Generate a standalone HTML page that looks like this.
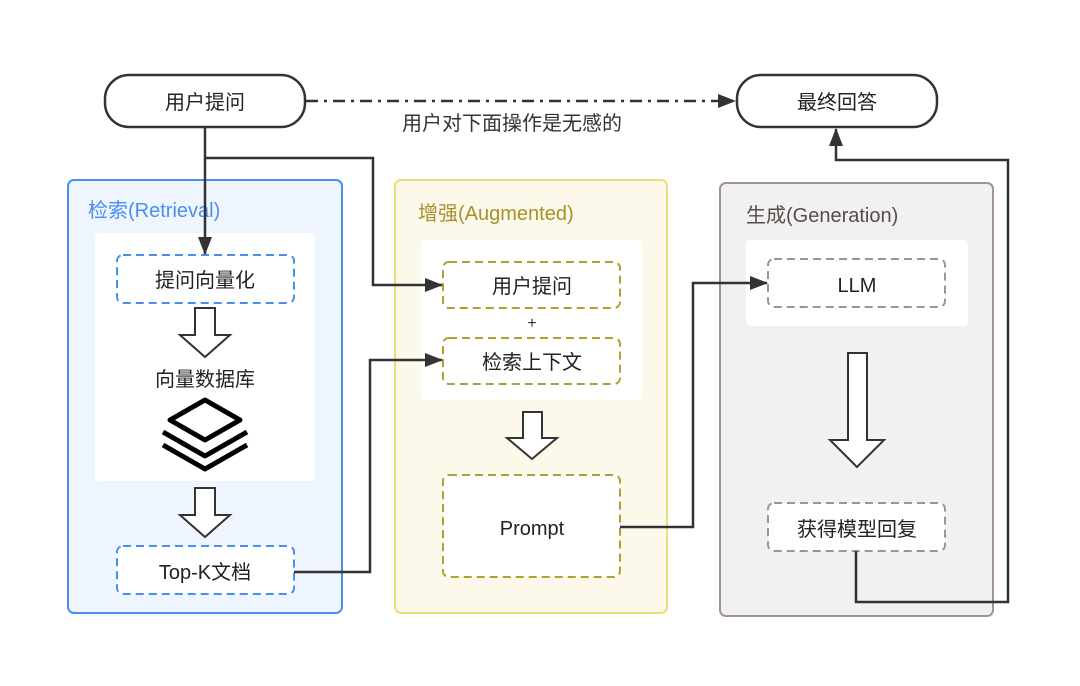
<!DOCTYPE html>
<html><head><meta charset="utf-8"><style>
html,body{margin:0;padding:0;background:#fff;}
svg{display:block;}
text{font-family:"Liberation Sans","Noto Sans CJK SC",sans-serif;}
</style></head><body>
<svg width="1080" height="686" viewBox="0 0 1080 686" xmlns="http://www.w3.org/2000/svg">
<defs>
<marker id="ar2" markerWidth="18" markerHeight="14" refX="17" refY="7" orient="auto" markerUnits="userSpaceOnUse">
<path d="M0,0 L18,7 L0,14 Z" fill="#333"/>
</marker>
</defs>
<rect width="1080" height="686" fill="#fff"/>
<!-- panels -->
<rect x="68" y="180" width="274" height="433" rx="6" fill="#eef5fe" stroke="#4a8ff0" stroke-width="2"/>
<text x="88" y="217" font-size="20" fill="#4a8ff0">检索(Retrieval)</text>
<rect x="95" y="233" width="220" height="248" rx="4" fill="#fff"/>
<rect x="395" y="180" width="272" height="433" rx="6" fill="#fcf8ea" stroke="#eedc7c" stroke-width="2"/>
<text x="418" y="220" font-size="20" fill="#a8912a">增强(Augmented)</text>
<rect x="421" y="240" width="221" height="160" rx="4" fill="#fff"/>
<rect x="720" y="183" width="273" height="433" rx="6" fill="#f1f1f1" stroke="#a39390" stroke-width="2"/>
<text x="746" y="222" font-size="20" fill="#5a4a48">生成(Generation)</text>
<rect x="746" y="240" width="222" height="86" rx="4" fill="#fff"/>
<!-- top nodes -->
<rect x="105" y="75" width="200" height="52" rx="24" fill="#fff" stroke="#333" stroke-width="2.5"/>
<text x="205" y="109" font-size="20" text-anchor="middle" fill="#222">用户提问</text>
<rect x="737" y="75" width="200" height="52" rx="24" fill="#fff" stroke="#333" stroke-width="2.5"/>
<text x="837" y="109" font-size="20" text-anchor="middle" fill="#222">最终回答</text>
<line x1="306" y1="101" x2="735" y2="101" stroke="#333" stroke-width="2.5" stroke-dasharray="12,6,3,6" marker-end="url(#ar2)"/>
<text x="512" y="130" font-size="20" text-anchor="middle" fill="#333">用户对下面操作是无感的</text>
<!-- retrieval nodes -->
<rect x="117" y="255" width="177" height="48" rx="6" fill="#fff" stroke="#4a8ff0" stroke-width="2" stroke-dasharray="8,5"/>
<text x="205" y="287" font-size="20" text-anchor="middle" fill="#222">提问向量化</text>
<path d="M195,308 H215 V335 H230 L205,357 L180,335 H195 Z" fill="#fff" stroke="#333" stroke-width="2"/>
<text x="205" y="386" font-size="20" text-anchor="middle" fill="#222">向量数据库</text>
<path d="M205,400 L240,420 L205,440 L170,420 Z" fill="none" stroke="#000" stroke-width="5" stroke-linejoin="round"/>
<path d="M163,432 L205,456 L247,432" fill="none" stroke="#000" stroke-width="5" stroke-linejoin="round"/>
<path d="M163,445 L205,469 L247,445" fill="none" stroke="#000" stroke-width="5" stroke-linejoin="round"/>
<path d="M195,488 H215 V515 H230 L205,537 L180,515 H195 Z" fill="#fff" stroke="#333" stroke-width="2"/>
<rect x="117" y="546" width="177" height="48" rx="6" fill="#fff" stroke="#4a8ff0" stroke-width="2" stroke-dasharray="8,5"/>
<text x="205" y="579" font-size="20" text-anchor="middle" fill="#222">Top-K文档</text>
<!-- augmented nodes -->
<rect x="443" y="262" width="177" height="46" rx="6" fill="#fff" stroke="#b0a030" stroke-width="2" stroke-dasharray="8,5"/>
<text x="532" y="293" font-size="20" text-anchor="middle" fill="#222">用户提问</text>
<text x="532" y="328" font-size="16" text-anchor="middle" fill="#333">+</text>
<rect x="443" y="338" width="177" height="46" rx="6" fill="#fff" stroke="#b0a030" stroke-width="2" stroke-dasharray="8,5"/>
<text x="532" y="369" font-size="20" text-anchor="middle" fill="#222">检索上下文</text>
<path d="M523,412 H542 V438 H557 L532,459 L507,438 H523 Z" fill="#fff" stroke="#333" stroke-width="2"/>
<rect x="443" y="475" width="177" height="102" rx="6" fill="#fff" stroke="#b0a030" stroke-width="2" stroke-dasharray="8,5"/>
<text x="532" y="535" font-size="20" text-anchor="middle" fill="#222">Prompt</text>
<!-- generation nodes -->
<rect x="768" y="259" width="177" height="48" rx="6" fill="#fff" stroke="#a39390" stroke-width="2" stroke-dasharray="8,5"/>
<text x="857" y="292" font-size="20" text-anchor="middle" fill="#222">LLM</text>
<path d="M848,353 H867 V440 H884 L857,467 L830,440 H848 Z" fill="#fff" stroke="#333" stroke-width="2"/>
<rect x="768" y="503" width="177" height="48" rx="6" fill="#fff" stroke="#a39390" stroke-width="2" stroke-dasharray="8,5"/>
<text x="857" y="536" font-size="20" text-anchor="middle" fill="#222">获得模型回复</text>
<!-- connectors -->
<path d="M205,128 V254" fill="none" stroke="#333" stroke-width="2.5" marker-end="url(#ar2)"/>
<path d="M205,158 H373 V285 H442" fill="none" stroke="#333" stroke-width="2.5" marker-end="url(#ar2)"/>
<path d="M294,572 H370 V360 H442" fill="none" stroke="#333" stroke-width="2.5" marker-end="url(#ar2)"/>
<path d="M620,527 H693 V283 H767" fill="none" stroke="#333" stroke-width="2.5" marker-end="url(#ar2)"/>
<path d="M856,551 V602 H1008 V160 H836 V129" fill="none" stroke="#333" stroke-width="2.5" marker-end="url(#ar2)"/>
</svg>
</body></html>
